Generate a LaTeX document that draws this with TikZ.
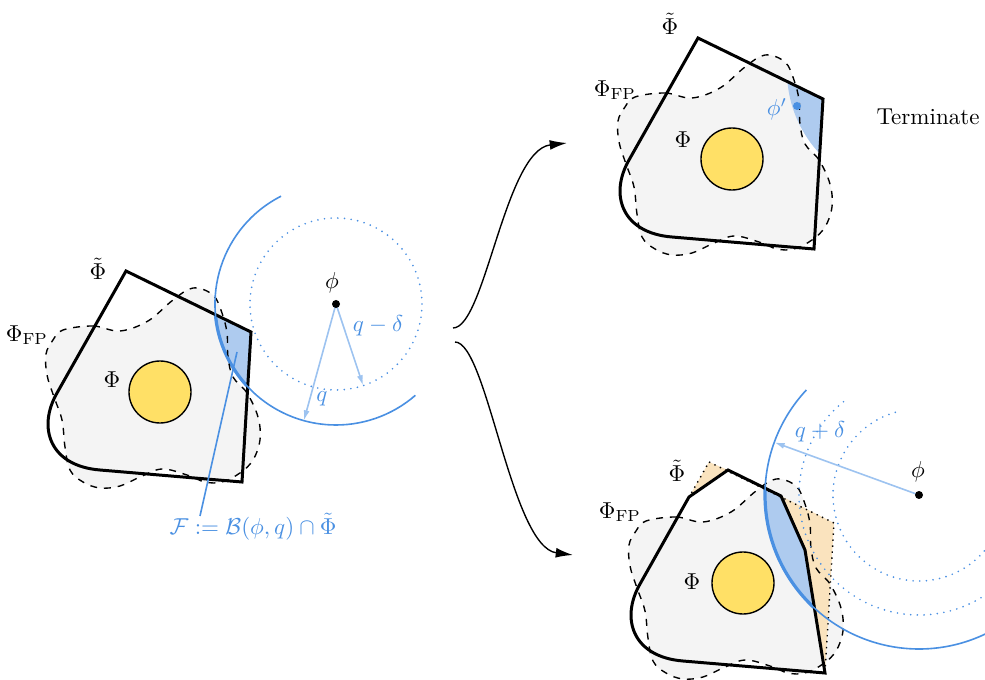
\documentclass[tikz,border=0pt]{standalone}
\usepackage{amsfonts,amsmath,amssymb}
\usepackage{xcolor}
\usepackage{tikz}
\usetikzlibrary{calc, arrows.meta}

\definecolor{fpgray}{HTML}{F4F4F4}
\definecolor{obsyellow}{HTML}{FFE066}
\definecolor{ballblue}{HTML}{4A90E2}
\definecolor{fillblue}{HTML}{AECBEF}
\definecolor{arrowblue}{HTML}{9DC3F0}
\definecolor{cutorange}{HTML}{FAE3BE}

% free-space blob, over-approximation and its cut version (local pixel units)
\newcommand{\fpblob}[1]{\path[#1] plot[smooth cycle, tension=0.6] coordinates {
  (63,330) (93,326) (120,331) (148,321) (173,300) (193,288) (213,295)
  (222,313) (227,333) (228,357) (233,377) (247,393) (258,417) (260,440)
  (253,460) (240,473) (222,482) (205,482) (187,475) (162,469) (140,477)
  (120,486) (100,488) (83,482) (70,470) (65,447) (62,420) (54,397)
  (47,375) (46,354) (53,340)};}
\newcommand{\tildepoly}[1]{\path[#1] (126,271) -- (251,332) -- (242,482)
  -- (100,470) .. controls (50,466) and (37,428) .. (57,393) -- cycle;}
\newcommand{\cutpoly}[1]{\path[#1] (106,306) -- (145,279) -- (198,305)
  -- (222,359) -- (242,482) -- (100,470) .. controls (50,466) and (37,428)
  .. (57,393) -- cycle;}

\begin{document}
\begin{tikzpicture}[x=0.4345pt, y=-0.4345pt,
  boundary/.style={draw, line width=1.3pt},
  fpline/.style={draw, dashed, line width=0.6pt},
  obstacle/.style={draw, fill=obsyellow, line width=0.6pt},
  ballline/.style={ballblue, line width=0.7pt},
  ballthick/.style={ballblue, line width=1.4pt},
  balldots/.style={ballblue, line width=0.8pt, dash pattern=on 0pt off 2.9pt, line cap=round},
  radarrow/.style={arrowblue, line width=0.7pt, -{Latex[length=4.5pt, width=2.6pt]}},
  flow/.style={line width=0.6pt, -{Latex[length=7.5pt, width=4.3pt]}},
  bluetext/.style={text=ballblue}]
  \useasboundingbox (0,0) rectangle (985,680);
  \clip (0,0) rectangle (985,680);

  % left: current state
  \coordinate (phiL) at (336,304);
  \fpblob{fill=fpgray}
  \begin{scope}
    \tildepoly{clip}
    \fill[fillblue] (phiL) circle (121);
    \draw[ballthick] (phiL) circle (121);
  \end{scope}
  \fpblob{fpline}
  \tildepoly{boundary}
  \draw[obstacle] (160,392) circle (31);
  \draw[ballline] (phiL) ++(-117:121) arc[start angle=-117, end angle=-311, radius=121];
  \draw[balldots] (phiL) circle (86);
  \coordinate (qtip) at ($(phiL)+(105.4:121)$);
  \coordinate (qdtip) at ($(phiL)+(71.6:86)$);
  \draw[radarrow] (phiL) -- (qtip);
  \draw[radarrow] (phiL) -- (qdtip);
  \fill (phiL) circle (4);
  \node (phiLlab) at (332,283) {$\phi$};
  \node[bluetext] (qlab) at (322,399) {$q$};
  \node[bluetext] (qdlab) at (378,326) {$q-\delta$};
  \node (tildeL) at (98,269) {$\tilde{\Phi}$};
  \node (fpL) at (27,335) {$\Phi_{\mathrm{FP}}$};
  \node (obsL) at (112,380) {$\Phi$};
  \node[bluetext] (flabel) at (253,527) {$\mathcal{F} := \mathcal{B}(\phi, q) \cap \tilde{\Phi}$};
  \coordinate (fin) at (237,352);
  \coordinate (fend) at (200,516);
  \draw[ballline] (fend) -- (fin);

  % transitions
  \coordinate (upStart) at (453,328);
  \coordinate (upEnd) at (567,143);
  \coordinate (dnStart) at (455,342);
  \coordinate (dnEnd) at (573,555);
  \draw[flow] (upStart) .. controls +(32,0) and +(-62,7) .. (upEnd);
  \draw[flow] (dnStart) .. controls +(32,0) and +(-62,-8) .. (dnEnd);

  % top right: terminate
  \begin{scope}[shift={(572,-233)}]
    \coordinate (phiT) at (336,304);
    \fpblob{fill=fpgray}
    \begin{scope}
      \tildepoly{clip}
      \fill[fillblue] (phiT) circle (121);
    \end{scope}
    \fpblob{fpline}
    \tildepoly{boundary}
    \draw[obstacle] (160,392) circle (31);
    \coordinate (phiprime) at (225,339);
    \fill[ballblue] (phiprime) circle (4);
  \end{scope}
  \node[bluetext] (phiplab) at (777,109) {$\phi'$};
  \node (tildeT) at (670,24) {$\tilde{\Phi}$};
  \node (fpT) at (615,90) {$\Phi_{\mathrm{FP}}$};
  \node (obsT) at (683,140) {$\Phi$};
  \node (term) at (928,117) {Terminate};

  % bottom right: cut and grow
  \begin{scope}[shift={(583,191)}]
    \coordinate (phiB) at (336,304);
    \fpblob{fill=fpgray}
    \fill[cutorange] (106,306) -- (126,271) -- (145,279) -- cycle;
    \fill[cutorange] (198,305) -- (251,332) -- (242,482) -- (222,359) -- cycle;
    \begin{scope}
      \cutpoly{clip}
      \fill[fillblue] (phiB) circle (154);
      \draw[ballthick] (phiB) circle (154);
    \end{scope}
    \fpblob{fpline}
    \tildepoly{draw, dotted, line width=0.6pt}
    \cutpoly{boundary}
    \draw[obstacle] (160,392) circle (31);
    \draw[ballline] (phiB) ++(-137:154) arc[start angle=-137, end angle=-300, radius=154];
    \draw[balldots] (phiB) ++(-129:120) arc[start angle=-129, end angle=-305, radius=120];
    \draw[balldots] (phiB) ++(-106:86) arc[start angle=-106, end angle=-322, radius=86];
    \coordinate (qptip) at ($(phiB)+(-160:154)$);
    \draw[radarrow] (phiB) -- (qptip);
    \fill (phiB) circle (4);
  \end{scope}
  \node (phiBlab) at (918,472) {$\phi$};
  \node[bluetext] (qplab) at (820,432) {$q+\delta$};
  \node (tildeB) at (677,471) {$\tilde{\Phi}$};
  \node (fpB) at (620,512) {$\Phi_{\mathrm{FP}}$};
  \node (obsB) at (692,582) {$\Phi$};
\end{tikzpicture}
\end{document}
